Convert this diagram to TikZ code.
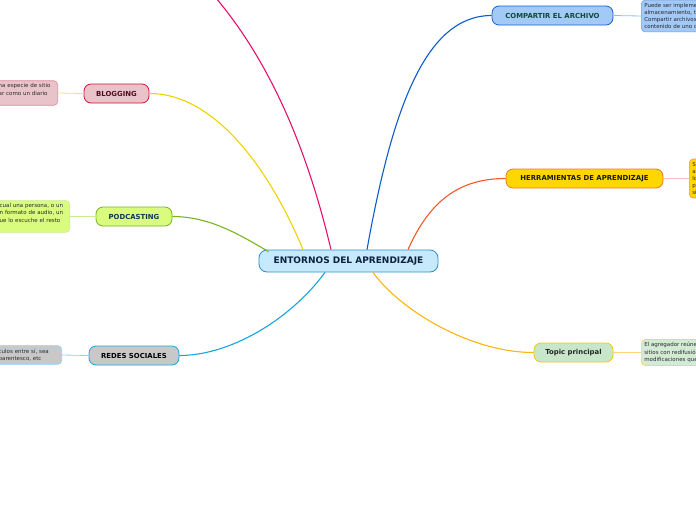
\documentclass[tikz,border=0pt]{standalone}
\usepackage{fontspec}
\setmainfont{DejaVu Sans}
\usetikzlibrary{positioning}

\definecolor{rootfill}{HTML}{C6E9FB}
\definecolor{rootline}{HTML}{2D8FCF}
\definecolor{rootink}{HTML}{0D2140}
\definecolor{pinkline}{HTML}{E6106E}
\definecolor{shareline}{HTML}{0A5CC7}
\definecolor{sharefill}{HTML}{A3C9F7}
\definecolor{shareedge}{HTML}{1560D4}
\definecolor{shareink}{HTML}{0F4A3C}
\definecolor{shareleaf}{HTML}{8CC0F5}
\definecolor{toolline}{HTML}{F05A28}
\definecolor{toolfill}{HTML}{FFD700}
\definecolor{tooledge}{HTML}{F0782A}
\definecolor{toolleaf}{HTML}{F8C0B8}
\definecolor{topicline}{HTML}{FBB510}
\definecolor{topicfill}{HTML}{C8E6C9}
\definecolor{topicedge}{HTML}{F5C518}
\definecolor{topicleaf}{HTML}{FBD77A}
\definecolor{netline}{HTML}{15A5E0}
\definecolor{netfill}{HTML}{C8C8C8}
\definecolor{netleaf}{HTML}{8FD3F5}
\definecolor{podline}{HTML}{79B51C}
\definecolor{podfill}{HTML}{D9FB7E}
\definecolor{podink}{HTML}{0D3A4F}
\definecolor{podleaf}{HTML}{C8EC90}
\definecolor{blogline}{HTML}{ECD400}
\definecolor{blogfill}{HTML}{E8C3CA}
\definecolor{blogedge}{HTML}{C8163C}
\definecolor{blogink}{HTML}{4D0D1A}
\definecolor{blogleaf}{HTML}{F3E26A}
\definecolor{leafink}{HTML}{2A2A2A}

\begin{document}
\begin{tikzpicture}[x=1pt, y=-1pt,
    rootbox/.style={draw=rootline, fill=rootfill, line width=0.8pt, rounded corners=8pt,
      minimum width=179pt, minimum height=22pt, inner sep=0pt,
      font=\fontsize{9}{10}\selectfont\bfseries, text=rootink},
    branchbox/.style={draw, line width=0.8pt, rounded corners=7pt, minimum height=19pt,
      inner sep=0pt, font=\fontsize{6.9}{8}\selectfont\bfseries},
    leafbox/.style={draw, line width=0.6pt, rounded corners=4pt, inner sep=3pt, align=left,
      font=\fontsize{5.5}{7.2}\selectfont, text=leafink},
    branchline/.style={line width=1.1pt},
    leafline/.style={line width=0.8pt}]
    \useasboundingbox (0,0) rectangle (696,520);
    \clip (0,0) rectangle (696,520);

    % centre
    \node[rootbox] (root) at (348.5,261) {ENTORNOS DEL APRENDIZAJE};

    % branches
    \node[branchbox, draw=shareedge, fill=sharefill, text=shareink, minimum width=121pt]
      (share) at (552.5,15.5) {COMPARTIR EL ARCHIVO};
    \node[branchbox, draw=tooledge, fill=toolfill, text=black!90, minimum width=157pt]
      (tools) at (584.5,178.5) {HERRAMIENTAS DE APRENDIZAJE};
    \node[branchbox, draw=topicedge, fill=topicfill, text=black!85, minimum width=79pt]
      (topic) at (573.5,352.5) {Topic principal};
    \node[branchbox, draw=netline, fill=netfill, text=black, minimum width=90pt]
      (net) at (134,355.5) {REDES SOCIALES};
    \node[branchbox, draw=podline, fill=podfill, text=podink, minimum width=76pt]
      (pod) at (134,216.5) {PODCASTING};
    \node[branchbox, draw=blogedge, fill=blogfill, text=blogink, minimum width=65pt]
      (blog) at (116.5,93.5) {BLOGGING};
    \coordinate (hidden) at (190,-30);

    % leaves
    \node[leafbox, draw=shareedge!60, fill=sharefill, anchor=west] (sharetext) at (641,16)
      {Puede ser implementado con una variedad de\\almacenamiento, transmisión y distribución\\Compartir archivos significa distribuir el\\contenido de uno o más archivos};
    \node[leafbox, draw=tooledge!80, fill=toolfill, anchor=west] (toolstext) at (689,178.5)
      {Son todas aquellas\\aplicaciones que\\los usuarios\\pueden usar\\sin costo};
    \node[leafbox, draw=topicedge!70, fill=topicfill!80, anchor=west] (topictext) at (641,352.5)
      {El agregador reúne las noticias\\sitios con redifusión elegidos\\modificaciones que se han producido};
    \node[leafbox, draw=netleaf, fill=netfill, anchor=east, text width=60pt] (nettext) at (62,355)
      {culos entre sí, sea\\parentesco, etc};
    \node[leafbox, draw=podleaf, fill=podfill, anchor=east, text width=67pt] (podtext) at (70,216.5)
      {cual una persona, o un\\n formato de audio, un\\ue lo escuche el resto\\\mbox{}};
    \node[leafbox, draw=blogedge!50, fill=blogfill, anchor=east, text width=56pt] (blogtext) at (58,93)
      {na especie de sitio\\ar como un diario\\\mbox{}};

    % curved branches
    \draw[branchline, pinkline] ([xshift=-17.5pt]root.north) .. controls (305,140) and (262,40) .. (hidden);
    \draw[branchline, shareline] ([xshift=18.5pt]root.north) .. controls (392,110) and (425,15.5) .. (share.west);
    \draw[branchline, toolline] ([xshift=59.5pt]root.north) .. controls (430,200) and (460,178.5) .. (tools.west);
    \draw[branchline, topicline] ([xshift=24.5pt]root.south) .. controls (400,310) and (470,352.5) .. (topic.west);
    \draw[branchline, netline] ([xshift=-23.5pt]root.south) .. controls (290,320) and (230,355.5) .. (net.east);
    \draw[branchline, podline] ([xshift=-80pt,yshift=-2pt]root.north) .. controls (240,235) and (210,216.5) .. (pod.east);
    \draw[branchline, blogline] ([xshift=-45.5pt]root.north) .. controls (270,170) and (215,93.5) .. (blog.east);

    % leaf links
    \draw[leafline, shareleaf] (share.east) -- (sharetext.west);
    \draw[leafline, toolleaf] (tools.east) -- (toolstext.west);
    \draw[leafline, topicleaf] (topic.east) -- (topictext.west);
    \draw[leafline, netleaf] (net.west) -- (nettext.east);
    \draw[leafline, podleaf] (pod.west) -- (podtext.east);
    \draw[leafline, blogleaf] (blog.west) -- (blogtext.east);
  \end{tikzpicture}
\end{document}
